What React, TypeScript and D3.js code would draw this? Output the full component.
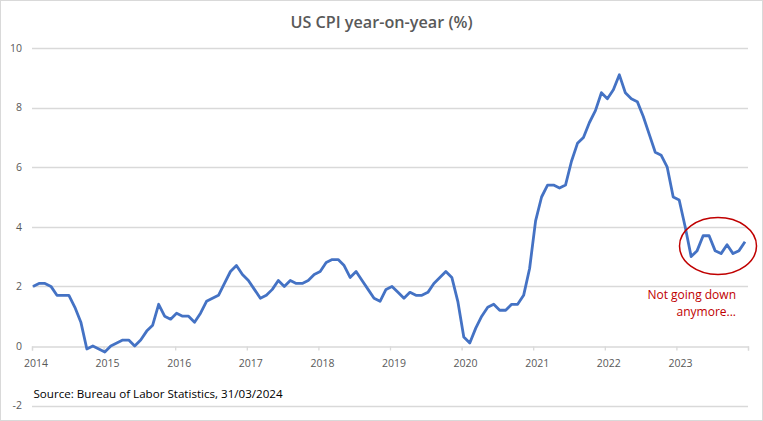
import { useEffect, useRef } from "react";
import * as d3 from "d3";

// monthly year-on-year CPI readings, 120 points
const cpiValues = [
  2.0, 2.1, 2.1, 2.0, 1.7, 1.7, 1.7, 1.3, 0.8, -0.1, 0.0, -0.1,
  -0.2, 0.0, 0.1, 0.2, 0.2, 0.0, 0.2, 0.5, 0.7, 1.4, 1.0, 0.9,
  1.1, 1.0, 1.0, 0.8, 1.1, 1.5, 1.6, 1.7, 2.1, 2.5, 2.7, 2.4,
  2.2, 1.9, 1.6, 1.7, 1.9, 2.2, 2.0, 2.2, 2.1, 2.1, 2.2, 2.4,
  2.5, 2.8, 2.9, 2.9, 2.7, 2.3, 2.5, 2.2, 1.9, 1.6, 1.5, 1.9,
  2.0, 1.8, 1.6, 1.8, 1.7, 1.7, 1.8, 2.1, 2.3, 2.5, 2.3, 1.5,
  0.3, 0.1, 0.6, 1.0, 1.3, 1.4, 1.2, 1.2, 1.4, 1.4, 1.7, 2.6,
  4.2, 5.0, 5.4, 5.4, 5.3, 5.4, 6.2, 6.8, 7.0, 7.5, 7.9, 8.5,
  8.3, 8.6, 9.1, 8.5, 8.3, 8.2, 7.7, 7.1, 6.5, 6.4, 6.0, 5.0,
  4.9, 4.0, 3.0, 3.2, 3.7, 3.7, 3.2, 3.1, 3.4, 3.1, 3.2, 3.5,
];
const yearTicks = [2014, 2015, 2016, 2017, 2018, 2019, 2020, 2021, 2022, 2023, 2024];
const yearLabels = ["2014", "2015", "2016", "2017", "2018", "2019", "2020", "2021", "2022", "2023"];
const yTicks = [-2, 0, 2, 4, 6, 8, 10];
const title = "US CPI year-on-year (%)";
const source = "Source: Bureau of Labor Statistics, 31/03/2024";
const noteLines = ["Not going down", "anymore..."];

const FONT = "'Open Sans', 'Liberation Sans', sans-serif";

export default function App() {
  const ref = useRef<SVGSVGElement | null>(null);

  useEffect(() => {
    document.body.style.margin = "0";
    if (!ref.current) return;
    ref.current.innerHTML = "";

    const width = 763,
      height = 421;
    const svg = d3.select(ref.current);

    // chart border
    svg
      .append("rect")
      .attr("x", 0.5)
      .attr("y", 0.5)
      .attr("width", width - 1)
      .attr("height", height - 1)
      .attr("fill", "white")
      .attr("stroke", "#d9d9d9");

    const y = d3.scaleLinear().domain([-2, 10]).range([405.6, 48]);
    const xYear = d3.scaleLinear().domain([2014, 2024]).range([32, 748]);
    const x = d3
      .scaleLinear()
      .domain([0, cpiValues.length - 1])
      .range([33, 745]);

    // gridlines
    svg
      .append("g")
      .selectAll("line")
      .data(yTicks.filter((t) => t !== 0))
      .join("line")
      .attr("x1", xYear(2014))
      .attr("x2", xYear(2024))
      .attr("y1", (d) => Math.round(y(d)) + 0.5)
      .attr("y2", (d) => Math.round(y(d)) + 0.5)
      .attr("stroke", "#d9d9d9")
      .attr("stroke-width", 1.3);

    // y labels
    svg
      .append("g")
      .selectAll("text")
      .data(yTicks)
      .join("text")
      .attr("x", 22)
      .attr("y", (d) => y(d) + 3.8)
      .attr("text-anchor", "end")
      .attr("font-family", FONT)
      .attr("font-size", 10.5)
      .attr("fill", "#595959")
      .text((d) => d);

    // x axis at zero
    const xAxis = svg
      .append("g")
      .attr("transform", `translate(0,${Math.round(y(0)) + 0.5})`)
      .call(
        d3
          .axisBottom(xYear)
          .tickValues(yearTicks)
          .tickSize(4)
          .tickFormat((d, i) => yearLabels[i] ?? "")
      );
    xAxis.select(".domain").attr("stroke", "#d9d9d9").attr("stroke-width", 1.3);
    xAxis.selectAll(".tick line").attr("stroke", "#d9d9d9").attr("stroke-width", 1.3);
    xAxis
      .selectAll(".tick text")
      .attr("y", 0)
      .attr("dy", 20)
      .attr("dx", 3.5)
      .attr("font-family", FONT)
      .attr("font-size", 10.5)
      .attr("fill", "#595959");

    // CPI line
    svg
      .append("path")
      .datum(cpiValues)
      .attr("fill", "none")
      .attr("stroke", "#4472c4")
      .attr("stroke-width", 2.8)
      .attr("stroke-linejoin", "round")
      .attr(
        "d",
        d3
          .line<number>()
          .x((d, i) => x(i))
          .y((d) => y(d))
      );

    // title
    svg
      .append("text")
      .attr("x", 381.5)
      .attr("y", 28)
      .attr("text-anchor", "middle")
      .attr("font-family", FONT)
      .attr("font-weight", 600)
      .attr("font-size", 16.2)
      .attr("fill", "#595959")
      .text(title);

    // source
    svg
      .append("text")
      .attr("x", 33.5)
      .attr("y", 398)
      .attr("font-family", FONT)
      .attr("font-size", 11.6)
      .attr("fill", "#000")
      .text(source);

    // annotation
    svg
      .append("ellipse")
      .attr("cx", 718)
      .attr("cy", 246)
      .attr("rx", 38.5)
      .attr("ry", 28.5)
      .attr("fill", "none")
      .attr("stroke", "#c00000")
      .attr("stroke-width", 1.5);

    svg
      .append("g")
      .selectAll("text")
      .data(noteLines)
      .join("text")
      .attr("x", 736)
      .attr("y", (d, i) => 299 + i * 16.5)
      .attr("text-anchor", "end")
      .attr("font-family", FONT)
      .attr("font-size", 12)
      .attr("fill", "#c00000")
      .text((d) => d);
  }, []);

  return <svg ref={ref} width={763} height={421} style={{ display: "block" }} />;
}
